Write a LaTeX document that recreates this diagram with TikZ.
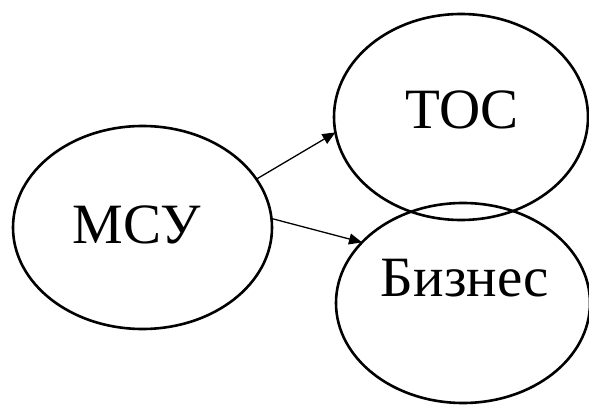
\documentclass[tikz,border=0pt]{standalone}
\usepackage{fontspec}
\setmainfont{Liberation Serif}
\usetikzlibrary{shapes.geometric,arrows.meta}
\begin{document}
\begin{tikzpicture}[x=1pt,y=-1pt,
  oval/.style={draw=black,line width=2.6pt,ellipse,inner sep=0pt,outer sep=0pt},
  lbl/.style={inner sep=0pt,font=\fontsize{57}{60}\selectfont},
  conn/.style={draw=black,line width=1.3pt,-{Triangle[length=13pt,width=11pt]}}]
\useasboundingbox (0,0) rectangle (589,406);
\node[oval,minimum width=259pt,minimum height=203pt] (msu) at (142.5,227.5) {};
\node[oval,minimum width=254pt,minimum height=206pt] (toc) at (461,117) {};
\node[oval,minimum width=254pt,minimum height=200pt] (biz) at (463,303) {};
\node[lbl] (tmsu) at (137,225) {МСУ};
\node[lbl] (ttoc) at (462,110) {ТОС};
\node[lbl] (tbiz) at (465,278) {Бизнес};
\draw[conn] (msu.23.3) -- (toc.187.7);
\draw[conn] (msu.4.6) -- (biz.149.3);
\end{tikzpicture}
\end{document}
